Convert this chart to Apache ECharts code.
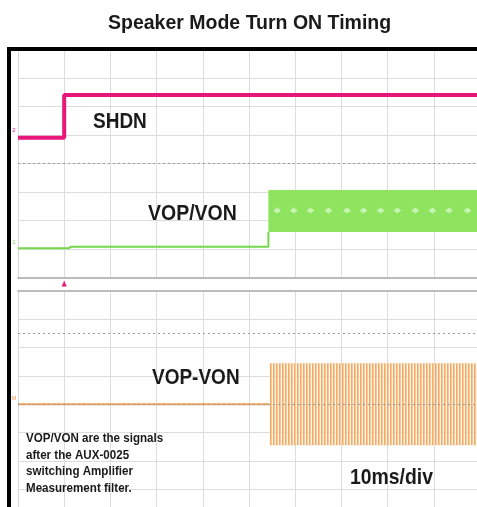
<!DOCTYPE html>
<html><head><meta charset="utf-8">
<script src="https://cdn.jsdelivr.net/npm/echarts@6/dist/echarts.min.js"></script>
<style>html,body{margin:0;padding:0;background:#fff}#c{width:477px;height:507px}</style>
</head><body><div id="c"></div>
<script>
// ---- data (time in ms, levels in scope divisions) ----
const timeRange = [0, 100];          // 10 ms/div
const divRange = [0, 8];
const shdnTime  = [0, 10, 10, 100];
const shdnLevel = [4.9, 4.9, 6.4, 6.4];
const vopvonTime  = [0, 11, 11.5, 54.2, 54.2];
const vopvonLevel = [1.03, 1.03, 1.08, 1.08, 1.6];
const vopvonBand  = [54.2, 100, 1.6, 3.07];      // start, end, low, high
const vopvonDiamondTime = [56.1, 59.7, 63.3, 67.2, 71.2, 74.8, 78.5, 82.1, 86.0, 89.7, 93.3, 97.3];
const vopvonDiamondLevel = 2.35;
const diffTime  = [0, 54.4];
const diffLevel = [4.0, 4.0];
const diffBand  = [54.4, 100, 2.55, 5.45];
const triggerTime = 10;
const upperRefLevels = [4];
const lowerRefLevels = [6.5, 4];
const noteLines = ['VOP/VON are the signals', 'after the AUX-0025', 'switching Amplifier', 'Measurement filter.'];

const FONT = '"Liberation Sans", Arial, sans-serif';
const zip = (a, b) => a.map((v, i) => [v, b[i]]);

// stripe pattern for the dense switching waveform
const pc = document.createElement('canvas'); pc.width = 3; pc.height = 2;
const g = pc.getContext('2d');
g.fillStyle = '#f3ab68'; g.fillRect(0, 0, 1, 2);
g.fillStyle = '#f8c896'; g.fillRect(1, 0, 1, 2);
g.fillStyle = 'rgba(253,236,218,0.6)'; g.fillRect(2, 0, 1, 2);
const stripe = { image: pc, repeat: 'repeat' };

function bandRender(fill) {
  return function (params, api) {
    const p0 = api.coord([api.value(0), api.value(3)]);
    const p1 = api.coord([api.value(1), api.value(2)]);
    return { type: 'rect', shape: { x: p0[0], y: p0[1], width: p1[0] - p0[0], height: p1[1] - p0[1] }, style: { fill: fill } };
  };
}

const gridLine = { show: true, lineStyle: { color: '#dcdcdc', width: 1 } };
function xAx(gi, pos) {
  return { type: 'value', gridIndex: gi, min: timeRange[0], max: timeRange[1], interval: 10, position: pos,
    axisLine: { show: true, onZero: false, lineStyle: { color: '#bcbcbc', width: 2 } },
    axisTick: { show: false }, axisLabel: { show: false }, splitLine: gridLine };
}
function yAx(gi) {
  return { type: 'value', gridIndex: gi, min: divRange[0], max: divRange[1], interval: 1,
    axisLine: { show: true, lineStyle: { color: '#d6d6d6', width: 1 } },
    axisTick: { show: false }, axisLabel: { show: false }, splitLine: gridLine };
}
const dotted = { color: '#9a9a9a', type: [2, 3], width: 1 };

const chart = echarts.init(document.getElementById('c'), null, { renderer: 'canvas' });
chart.setOption({
  animation: false,
  backgroundColor: '#ffffff',
  title: { text: 'Speaker Mode Turn ON Timing', left: 108, top: 14, padding: 0,
    textStyle: { fontFamily: FONT, fontWeight: 'bold', fontSize: 19.5, color: '#1a1a1a' } },
  grid: [
    { left: 18, right: -3, top: 49.5, bottom: 229.5, outerBoundsMode: 'none', containLabel: false },
    { left: 18, right: -3, top: 291, bottom: -10.4, outerBoundsMode: 'none', containLabel: false }
  ],
  xAxis: [xAx(0, 'bottom'), xAx(1, 'top')],
  yAxis: [yAx(0), yAx(1)],
  series: [
    { type: 'custom', xAxisIndex: 0, yAxisIndex: 0, data: [vopvonBand], encode: { x: [0, 1], y: [2, 3] },
      renderItem: bandRender('#8ee35f'), z: 3, silent: true,
      markLine: { silent: true, symbol: 'none', label: { show: false }, lineStyle: dotted,
        data: upperRefLevels.map(v => ({ yAxis: v })) } },
    { type: 'scatter', xAxisIndex: 0, yAxisIndex: 0, data: vopvonDiamondTime.map(t => [t, vopvonDiamondLevel]),
      symbol: 'diamond', symbolSize: [8, 6], itemStyle: { color: '#d6f8c4' }, z: 4, silent: true },
    { type: 'line', name: 'VOP/VON', xAxisIndex: 0, yAxisIndex: 0, data: zip(vopvonTime, vopvonLevel),
      showSymbol: false, lineStyle: { color: '#74d84c', width: 2 }, z: 5 },
    { type: 'line', name: 'SHDN', xAxisIndex: 0, yAxisIndex: 0, data: zip(shdnTime, shdnLevel),
      showSymbol: false, lineStyle: { color: '#e8157b', width: 4 }, z: 6,
      markPoint: { silent: true, symbol: 'triangle', symbolSize: [5, 6], symbolOffset: [0, 6],
        itemStyle: { color: '#e8157b' }, label: { show: false },
        data: [{ coord: [triggerTime, divRange[0]] }] } },
    { type: 'custom', xAxisIndex: 1, yAxisIndex: 1, data: [diffBand], encode: { x: [0, 1], y: [2, 3] },
      renderItem: bandRender(stripe), z: 3, silent: true },
    { type: 'line', name: 'VOP-VON', xAxisIndex: 1, yAxisIndex: 1, data: zip(diffTime, diffLevel),
      showSymbol: false, lineStyle: { color: '#f0a05a', width: 2 }, z: 5,
      markLine: { silent: true, symbol: 'none', label: { show: false }, lineStyle: dotted, z: 7,
        data: lowerRefLevels.map(v => ({ yAxis: v })) } }
  ],
  graphic: [
    { type: 'polyline', shape: { points: [[9, 520], [9, 49], [490, 49]] }, style: { stroke: '#000', lineWidth: 4, fill: null }, z: 100 },
    { type: 'text', x: 14, y: 130, style: { text: '2', font: '6px ' + FONT, fill: '#e8157b', align: 'center', verticalAlign: 'middle' }, z: 100 },
    { type: 'text', x: 14, y: 242, style: { text: '1', font: '6px ' + FONT, fill: '#74d84c', align: 'center', verticalAlign: 'middle' }, z: 100 },
    { type: 'text', x: 14, y: 398, style: { text: 'M', font: '6px ' + FONT, fill: '#f0a05a', align: 'center', verticalAlign: 'middle' }, z: 100 },
    { type: 'text', x: 93, y: 122, scaleY: 1.12, style: { text: 'SHDN', font: 'bold 19px ' + FONT, fill: '#1a1a1a', verticalAlign: 'middle' }, z: 100 },
    { type: 'text', x: 148, y: 214, scaleY: 1.12, style: { text: 'VOP/VON', font: 'bold 19.5px ' + FONT, fill: '#1a1a1a', verticalAlign: 'middle' }, z: 100 },
    { type: 'text', x: 152, y: 378, scaleY: 1.12, style: { text: 'VOP-VON', font: 'bold 19px ' + FONT, fill: '#1a1a1a', verticalAlign: 'middle' }, z: 100 },
    { type: 'text', x: 350, y: 478, scaleY: 1.12, style: { text: '10ms/div', font: 'bold 19.4px ' + FONT, fill: '#1a1a1a', verticalAlign: 'middle' }, z: 100 },
    { type: 'text', x: 26, y: 430, scaleY: 1.08, style: { text: noteLines.join('\n'), font: 'bold 11.6px ' + FONT, lineHeight: 15.5, fill: '#1a1a1a', verticalAlign: 'top' }, z: 100 }
  ]
});
</script></body></html>
